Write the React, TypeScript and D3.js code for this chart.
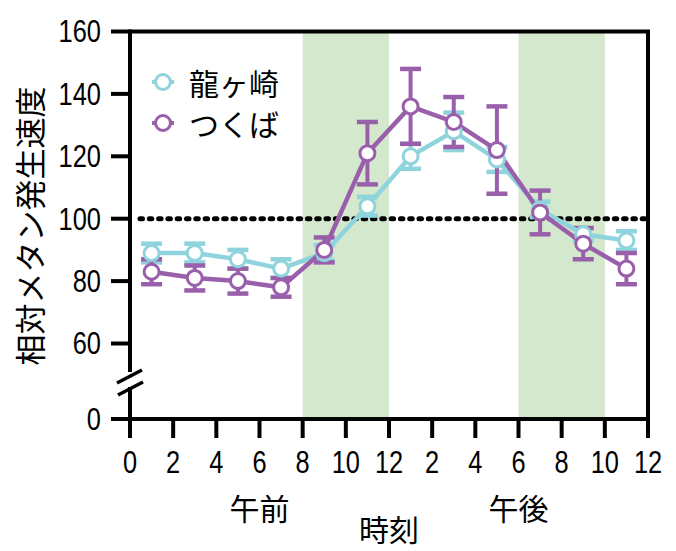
import React from "react";
import * as d3 from "d3";

const hours = [1, 3, 5, 7, 9, 11, 13, 15, 17, 19, 21, 23];
const ryugasaki = [89, 89, 87, 84, 89, 104, 120, 128, 119, 103, 95, 93];
const ryugasakiErr = [3, 3, 3, 3, 2.5, 3, 4, 6, 4, 2.5, 2, 3];
const tsukuba = [83, 81, 80, 78, 90, 121, 136, 131, 122, 102, 92, 84];
const tsukubaErr = [4, 4, 4, 3, 4, 10, 12, 8, 14, 7, 5, 5];
const seriesNames = ["龍ヶ崎", "つくば"];
const xTickValues = [0, 2, 4, 6, 8, 10, 12, 14, 16, 18, 20, 22, 24];
const xTickLabels = ["0", "2", "4", "6", "8", "10", "12", "2", "4", "6", "8", "10", "12"];
const yTickValues = [0, 60, 80, 100, 120, 140, 160];
const greenBands = [
  [8, 12],
  [18, 22],
];
const referenceLine = 100;

const W = 676;
const H = 551;
const CYAN = "#8fd4dd";
const PURPLE = "#9a5fab";
const GREEN = "#d3e8cc";
const NUM_FONT = "'Liberation Sans', Arial, sans-serif";
const JP_FONT = "'Noto Sans CJK JP', 'Noto Sans', sans-serif";

function NarrowText(props: { x: number; y: number; anchor: string; children: React.ReactNode }) {
  return (
    <text
      transform={`translate(${props.x}, ${props.y}) scale(0.82, 1)`}
      textAnchor={props.anchor}
      dominantBaseline="central"
      fontFamily={NUM_FONT}
      fontSize={31}
      fill="#000"
    >
      {props.children}
    </text>
  );
}

export default function App() {
  const left = 130;
  const right = 648;
  const top = 31.5;
  const bottom = 419;
  const x = d3.scaleLinear().domain([0, 24]).range([left, right]);
  const y = d3.scaleLinear().domain([0, 60, 160]).range([bottom, 343.5, top]);

  const series = [
    { name: seriesNames[0], values: ryugasaki, err: ryugasakiErr, color: CYAN },
    { name: seriesNames[1], values: tsukuba, err: tsukubaErr, color: PURPLE },
  ];

  const line = d3
    .line<number>()
    .x((_, i) => x(hours[i]))
    .y((v) => y(v));

  const capHalf = 10.5;

  return (
    <svg
      width={W}
      height={H}
      style={{ position: "absolute", left: 0, top: 0, background: "#fff" }}
    >
      {greenBands.map(([a, b], i) => (
        <rect key={i} x={x(a)} y={top} width={x(b) - x(a)} height={bottom - top} fill={GREEN} />
      ))}

      <line
        x1={left + 10}
        x2={right}
        y1={y(referenceLine)}
        y2={y(referenceLine)}
        stroke="#000"
        strokeWidth={5}
        strokeDasharray="2.5 6.8"
        strokeLinecap="round"
      />

      {series.map((s) => (
        <g key={"e" + s.name} stroke={s.color} strokeWidth={4}>
          {s.values.map((v, i) => {
            const cx = x(hours[i]);
            const y1 = y(v + s.err[i]);
            const y2 = y(v - s.err[i]);
            return (
              <g key={i}>
                <line x1={cx} x2={cx} y1={y1} y2={y2} />
                <line x1={cx - capHalf} x2={cx + capHalf} y1={y1} y2={y1} strokeWidth={4.5} />
                <line x1={cx - capHalf} x2={cx + capHalf} y1={y2} y2={y2} strokeWidth={4.5} />
              </g>
            );
          })}
        </g>
      ))}

      {series.map((s) => (
        <path key={"l" + s.name} d={line(s.values) || ""} fill="none" stroke={s.color} strokeWidth={4.5} />
      ))}

      {series.map((s) => (
        <g key={"m" + s.name}>
          {s.values.map((v, i) => (
            <circle key={i} cx={x(hours[i])} cy={y(v)} r={7.5} fill="#fff" stroke={s.color} strokeWidth={3} />
          ))}
        </g>
      ))}

      <g stroke="#000" strokeWidth={4} fill="none">
        <line x1={left} x2={right + 2} y1={top} y2={top} />
        <line x1={right} x2={right} y1={top} y2={bottom} />
        <line x1={left - 2} x2={right + 2} y1={bottom} y2={bottom} />
        <line x1={left} x2={left} y1={top - 2} y2={372} />
        <line x1={left} x2={left} y1={387} y2={bottom} />
      </g>
      <g stroke="#000" strokeWidth={3.5}>
        <line x1={117} y1={383} x2={142} y2={370} />
        <line x1={118} y1={395} x2={143} y2={382} />
      </g>

      {yTickValues.map((t) => (
        <g key={"yt" + t}>
          <line x1={111} x2={left} y1={y(t)} y2={y(t)} stroke="#000" strokeWidth={4} />
          <NarrowText x={101} y={y(t)} anchor="end">
            {t}
          </NarrowText>
        </g>
      ))}

      {xTickValues.map((t, i) => (
        <g key={"xt" + t}>
          <line x1={x(t)} x2={x(t)} y1={bottom} y2={438} stroke="#000" strokeWidth={4} />
          <NarrowText x={x(t)} y={462} anchor="middle">
            {xTickLabels[i]}
          </NarrowText>
        </g>
      ))}

      <text x={x(6)} y={507} textAnchor="middle" dominantBaseline="central" fontFamily={JP_FONT} fontSize={30} fill="#000">
        午前
      </text>
      <text x={x(18)} y={507} textAnchor="middle" dominantBaseline="central" fontFamily={JP_FONT} fontSize={30} fill="#000">
        午後
      </text>
      <text x={x(12)} y={528} textAnchor="middle" dominantBaseline="central" fontFamily={JP_FONT} fontSize={30} fill="#000">
        時刻
      </text>

      <text
        transform={`translate(28, ${(82 + 370) / 2}) rotate(-90)`}
        textAnchor="middle"
        dominantBaseline="central"
        fontFamily={JP_FONT}
        fontSize={31}
        fill="#000"
      >
        相対メタン発生速度
      </text>

      {series.map((s, i) => {
        const ly = 82 + i * 41;
        return (
          <g key={"lg" + s.name}>
            <line x1={152} x2={174} y1={ly} y2={ly} stroke={s.color} strokeWidth={4} />
            <circle cx={163} cy={ly} r={7.5} fill="#fff" stroke={s.color} strokeWidth={3} />
            <text x={189} y={ly} dominantBaseline="central" fontFamily={JP_FONT} fontSize={30} fill="#000">
              {s.name}
            </text>
          </g>
        );
      })}
    </svg>
  );
}
